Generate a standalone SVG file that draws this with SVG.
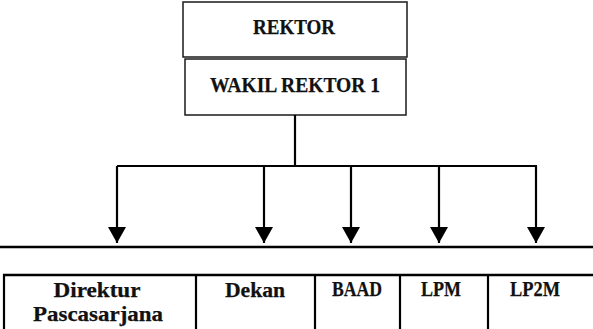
<svg xmlns="http://www.w3.org/2000/svg" width="593" height="329" viewBox="0 0 593 329">
  <style>
    .box { fill: #ffffff; stroke: #1a1a1a; stroke-width: 1.5; }
    .lbl { font-family: "Liberation Serif", "Times New Roman", serif; font-weight: bold; font-size: 21.5px; fill: #111111; text-anchor: middle; stroke: #111111; stroke-width: 0.25; }
    .wire { fill: none; stroke: #000000; stroke-width: 2.2; }
    .rule { fill: none; stroke: #000000; stroke-width: 2.6; }
  </style>
  <defs>
    <!-- solid triangular arrowhead, tip at the end of the line -->
    <marker id="head" markerUnits="userSpaceOnUse" markerWidth="16" markerHeight="18" refX="15" refY="8.5" orient="auto" viewBox="0 0 15 17">
      <path d="M0,0 L15,8.5 L0,17 Z" fill="#000000"/>
    </marker>
  </defs>

  <rect width="593" height="329" fill="#ffffff"/>

  <g id="rektor">
    <rect class="box" x="183" y="2" width="224" height="55"/>
    <text class="lbl" x="294" y="34" textLength="82" lengthAdjust="spacingAndGlyphs">REKTOR</text>
  </g>

  <g id="wakil-rektor-1">
    <rect class="box" x="185" y="59" width="221" height="56"/>
    <text class="lbl" x="295" y="92" textLength="170" lengthAdjust="spacingAndGlyphs">WAKIL REKTOR 1</text>
  </g>

  <g id="connectors">
    <line class="wire" x1="295" y1="115" x2="295" y2="166"/>
    <line class="wire" x1="117" y1="166" x2="537" y2="166"/>
    <line class="wire" x1="117" y1="166" x2="117" y2="243" marker-end="url(#head)"/>
    <line class="wire" x1="264" y1="166" x2="264" y2="243" marker-end="url(#head)"/>
    <line class="wire" x1="351" y1="166" x2="351" y2="243" marker-end="url(#head)"/>
    <line class="wire" x1="439" y1="166" x2="439" y2="243" marker-end="url(#head)"/>
    <line class="wire" x1="536" y1="166" x2="536" y2="243" marker-end="url(#head)"/>
  </g>

  <line class="rule" x1="0" y1="247" x2="593" y2="247"/>

  <g id="unit-table">
    <line class="rule" x1="3" y1="275" x2="593" y2="275"/>
    <line class="wire" x1="4" y1="274" x2="4" y2="329"/>
    <line class="wire" x1="196" y1="274" x2="196" y2="329"/>
    <line class="wire" x1="315" y1="274" x2="315" y2="329"/>
    <line class="wire" x1="400" y1="274" x2="400" y2="329"/>
    <line class="wire" x1="488" y1="274" x2="488" y2="329"/>
  </g>

  <g id="direktur-pascasarjana">
    <text class="lbl" x="97" y="297" textLength="87" lengthAdjust="spacingAndGlyphs">Direktur</text>
    <text class="lbl" x="98" y="321" textLength="130" lengthAdjust="spacingAndGlyphs">Pascasarjana</text>
  </g>
  <g id="dekan">
    <text class="lbl" x="255" y="297" textLength="60" lengthAdjust="spacingAndGlyphs">Dekan</text>
  </g>
  <g id="baad">
    <text class="lbl" x="357" y="296" textLength="50" lengthAdjust="spacingAndGlyphs">BAAD</text>
  </g>
  <g id="lpm">
    <text class="lbl" x="441" y="296" textLength="40" lengthAdjust="spacingAndGlyphs">LPM</text>
  </g>
  <g id="lp2m">
    <text class="lbl" x="535" y="296" textLength="50" lengthAdjust="spacingAndGlyphs">LP2M</text>
  </g>
</svg>
